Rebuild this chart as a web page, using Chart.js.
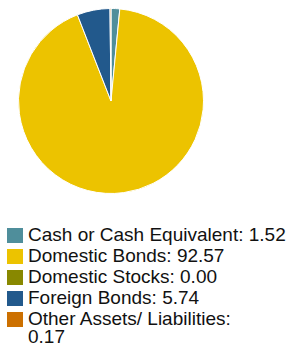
<!DOCTYPE html>
<html>
<head>
<meta charset="utf-8">
<script src="https://cdn.jsdelivr.net/npm/chart.js@4"></script>
<style>
  body { margin: 0; background: #fff; width: 294px; height: 347px; overflow: hidden; font-family: "Liberation Sans", Arial, sans-serif; }
  #pie { display: block; }
  #legend { position: absolute; left: 7px; top: 226px; width: 287px; }
  .row { display: flex; align-items: flex-start; font-size: 19px; line-height: 17.5px; color: #111; margin-bottom: 3.5px; }
  .box { width: 16px; height: 15px; flex: none; margin-right: 5px; margin-top: 2px; }
  .txt { white-space: pre-line; }
</style>
</head>
<body>
<canvas id="pie" width="222" height="202"></canvas>
<div id="legend"></div>
<script>
// 자산 배분 데이터
const categories = ['Cash or Cash Equivalent', 'Domestic Bonds', 'Domestic Stocks', 'Foreign Bonds', 'Other Assets/ Liabilities'];
const values = [1.52, 92.57, 0.00, 5.74, 0.17];
const colors = ['#4f8e9b', '#ecc300', '#888800', '#22598c', '#cc7000'];
const maxChars = 30; // 이보다 긴 라벨은 값을 다음 줄로

new Chart(document.getElementById('pie').getContext('2d'), {
    type: 'pie',
    data: {
        labels: categories,
        datasets: [{
            data: values,
            backgroundColor: colors,
            borderColor: '#ffffff',
            borderWidth: 1
        }]
    },
    options: {
        responsive: false,
        animation: false,
        layout: { padding: 8 },
        plugins: { legend: { display: false }, tooltip: { enabled: false } }
    }
});

// 범례 (줄바꿈 때문에 HTML로 작성)
const legend = document.getElementById('legend');
categories.forEach((name, i) => {
    const row = document.createElement('div');
    row.className = 'row';
    const box = document.createElement('span');
    box.className = 'box';
    box.style.background = colors[i];
    const text = document.createElement('span');
    text.className = 'txt';
    const val = values[i].toFixed(2);
    const full = name + ': ' + val;
    text.textContent = full.length > maxChars ? name + ':\n' + val : full;
    row.appendChild(box);
    row.appendChild(text);
    legend.appendChild(row);
});
</script>
</body>
</html>
